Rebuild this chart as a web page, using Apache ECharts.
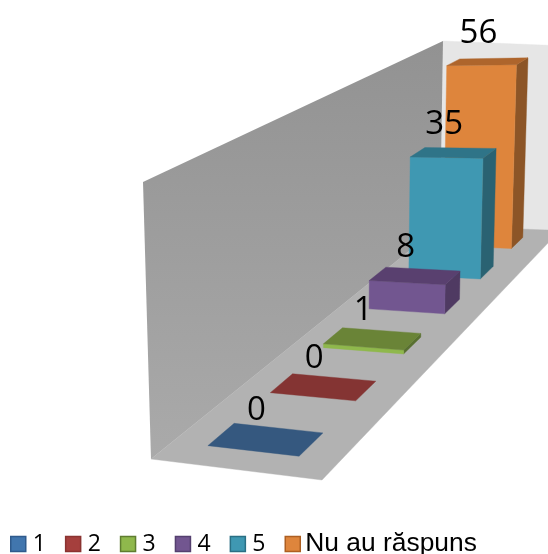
<!DOCTYPE html>
<html>
<head>
<meta charset="utf-8">
<style>html,body{margin:0;padding:0;background:#fff}#chart{width:548px;height:554px}</style>
<script src="https://cdn.jsdelivr.net/npm/echarts@6/dist/echarts.min.js"></script>
</head>
<body>
<div id="chart"></div>
<script>
const categories = ['1', '2', '3', '4', '5', 'Nu au răspuns'];
const values = [0, 0, 1, 8, 35, 56];
const valueMax = 60;

// colours per bar
const frontColors = ['#4176ae', '#a53f3d', '#8fb84c', '#725690', '#3f98b2', '#de853c'];
const topColors = ['#35587f', '#843433', '#6a8437', '#59406f', '#2f7488', '#ae652c'];
const sideColors = ['#2c4a6c', '#6e2b2a', '#587030', '#4f3a62', '#2a6272', '#8c5527'];
const legendBorders = ['#2f5a8c', '#8a3331', '#5f7d30', '#54406f', '#2a6f84', '#ad5f22'];

// floor corners of the 3d box, and where the verticals meet
const floorA = [151, 459], floorB = [322, 480], floorC = [560, 230.5], floorD = [440, 226];
const wallTopFront = [143, 182], wallTopBack = [443, 41], wallTopRight = [566, 46];
const vertVanish = [333, 6780];

// unit square -> floor homography
const dx1 = floorB[0] - floorC[0], dx2 = floorD[0] - floorC[0], sx = floorA[0] - floorB[0] + floorC[0] - floorD[0];
const dy1 = floorB[1] - floorC[1], dy2 = floorD[1] - floorC[1], sy = floorA[1] - floorB[1] + floorC[1] - floorD[1];
const det = dx1 * dy2 - dx2 * dy1;
const hg = (sx * dy2 - dx2 * sy) / det;
const hh = (dx1 * sy - sx * dy1) / det;
const ha = floorB[0] - floorA[0] + hg * floorB[0];
const hb = floorD[0] - floorA[0] + hh * floorD[0];
const hd = floorB[1] - floorA[1] + hg * floorB[1];
const he = floorD[1] - floorA[1] + hh * floorD[1];
const tf = (wallTopFront[1] - floorA[1]) / (vertVanish[1] - floorA[1]);
const hk = tf / (1 - tf);

// s across the floor, t into the depth, h up the wall, all 0..1
function project(s, t, h) {
    const w = hg * s + hh * t + 1 + h * hk;
    return [
        (ha * s + hb * t + floorA[0] + h * hk * vertVanish[0]) / w,
        (hd * s + he * t + floorA[1] + h * hk * vertVanish[1]) / w
    ];
}

const barLeft = 0.22, barRight = 0.765, barDepth = 0.4;

function poly(points, fill) {
    return { type: 'polygon', shape: { points: points }, style: { fill: fill, stroke: fill, lineWidth: 0.4 } };
}

function renderWalls() {
    return {
        type: 'group',
        children: [
            poly([wallTopBack, wallTopRight, floorC, floorD], '#e6e6e6'),
            poly([floorA, floorB, floorC, floorD], '#b2b2b2'),
            {
                type: 'polygon',
                shape: { points: [wallTopFront, wallTopBack, floorD, floorA] },
                style: {
                    fill: new echarts.graphic.LinearGradient(0, 0, 0, 1, [
                        { offset: 0, color: '#929292' },
                        { offset: 1, color: '#aaaaaa' }
                    ])
                }
            }
        ]
    };
}

function barBox(params, api) {
    const W = api.getWidth(), H = api.getHeight();
    const i = api.value(0);
    const tc = api.coord([i, 0])[0] / W;
    const dt = api.size([1, 0])[0] / W * barDepth / 2;
    const h = 1 - api.coord([i, api.value(1)])[1] / H;
    const t0 = tc - dt, t1 = tc + dt;
    const fl = project(barLeft, t0, h), fr = project(barRight, t0, h);
    const bl = project(barLeft, t1, h), br = project(barRight, t1, h);
    const children = [];
    if (h > 0) {
        children.push(poly([project(barRight, t0, 0), project(barRight, t1, 0), br, fr], sideColors[i]));
        children.push(poly([project(barLeft, t0, 0), project(barRight, t0, 0), fr, fl], frontColors[i]));
    }
    children.push(poly([fl, fr, br, bl], topColors[i]));
    return { type: 'group', children: children };
}

function barLabel(params, api) {
    const W = api.getWidth(), H = api.getHeight();
    const i = api.value(0);
    const tc = api.coord([i, 0])[0] / W;
    const h = 1 - api.coord([i, api.value(1)])[1] / H;
    const p = project((barLeft + barRight) / 2, tc, h);
    return {
        type: 'text',
        style: {
            text: String(api.value(1)),
            x: p[0] - 9,
            y: p[1] - 28.5,
            textAlign: 'center',
            textVerticalAlign: 'middle',
            font: '33px "Open Sans"',
            fill: '#000'
        }
    };
}

const series = [{
    type: 'custom',
    name: 'walls',
    silent: true,
    z: 0,
    data: [[0, 0]],
    renderItem: renderWalls
}];
categories.forEach(function (name, i) {
    series.push({
        type: 'custom',
        name: name,
        z: 10 - i + 1,
        itemStyle: { color: frontColors[i] },
        encode: { x: 0, y: 1 },
        data: [[i, values[i]]],
        renderItem: barBox
    });
});
series.push({
    type: 'custom',
    name: 'labels',
    silent: true,
    z: 20,
    encode: { x: 0, y: 1 },
    data: values.map(function (v, i) { return [i, v]; }),
    renderItem: barLabel
});

const chart = echarts.init(document.getElementById('chart'));
chart.setOption({
    animation: false,
    backgroundColor: '#fff',
    grid: { left: 0, right: 0, top: 0, bottom: 0 },
    xAxis: { type: 'category', data: categories, show: false },
    yAxis: { type: 'value', min: 0, max: valueMax, show: false },
    legend: {
        left: 10,
        top: 531,
        itemWidth: 15,
        itemHeight: 15,
        itemGap: 19,
        icon: 'rect',
        selectedMode: false,
        padding: 0,
        textStyle: { fontFamily: 'Open Sans', fontSize: 23, color: '#000', padding: [0, 0, 0, 2] },
        data: categories.map(function (name, i) {
            const item = {
                name: name,
                itemStyle: { color: frontColors[i], borderColor: legendBorders[i], borderWidth: 1.5 }
            };
            if (i === 5) {
                item.textStyle = { fontFamily: 'Liberation Sans', fontSize: 26.4, color: '#000', padding: 0 };
            }
            return item;
        })
    },
    series: series
});
</script>
</body>
</html>
